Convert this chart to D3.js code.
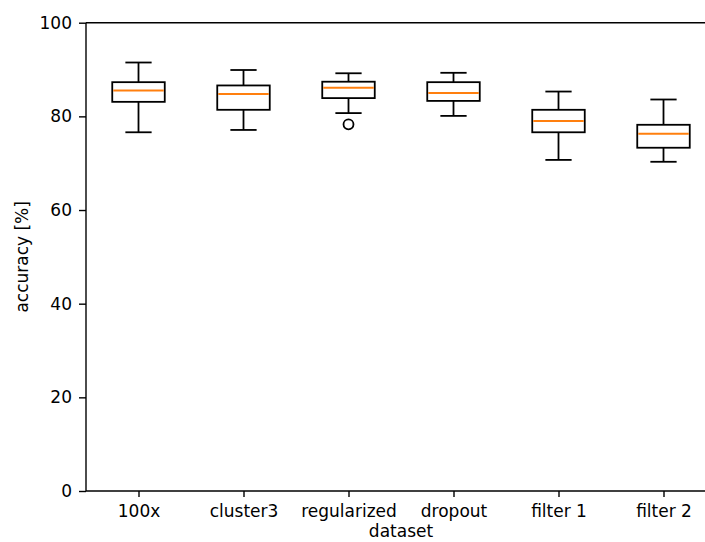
<!DOCTYPE html>
<html>
<head>
<meta charset="utf-8">
<script src="https://cdn.jsdelivr.net/npm/d3@7"></script>
<style>
  html, body { margin: 0; padding: 0; background: #fff; overflow: hidden; }
  svg { display: block; }
  text { font-family: "DejaVu Sans", sans-serif; fill: #000; }
</style>
</head>
<body>
<script>
// box statistics
const datasets = ['100x', 'cluster3', 'regularized', 'dropout', 'filter 1', 'filter 2']
const whiskerLow = [76.6, 77.1, 80.7, 80.1, 70.7, 70.3]
const q1 = [83.1, 81.4, 83.9, 83.3, 76.6, 73.3]
const median = [85.5, 84.8, 86.1, 85.0, 79.0, 76.3]
const q3 = [87.3, 86.6, 87.4, 87.3, 81.4, 78.2]
const whiskerHigh = [91.5, 89.9, 89.2, 89.3, 85.3, 83.6]
const outliers = [[], [], [78.3], [], [], []]
const yTicks = [0, 20, 40, 60, 80, 100]

const W = 705, H = 542
const margin = {top: 22.7, left: 86, bottom: 51}
const plotW = 630, plotH = H - margin.top - margin.bottom

const svg = d3.select('body').append('svg')
  .attr('width', W)
  .attr('height', H)

const g = svg.append('g')
  .attr('transform', `translate(${margin.left}, ${margin.top})`)

// categorical positions 1..6 with matplotlib-like padding
const x = d3.scaleLinear().domain([0.5, 6.5]).range([0, plotW])
const y = d3.scaleLinear().domain([0, 100]).range([plotH, 0])
const step = x(2) - x(1)
const boxW = step * 0.5

const rows = datasets.map((name, i) => ({
  name, pos: i + 1,
  lo: whiskerLow[i], q1: q1[i], med: median[i], q3: q3[i], hi: whiskerHigh[i],
  out: outliers[i]
}))

// axes
const xAxis = g.append('g')
  .attr('transform', `translate(0, ${plotH})`)
  .call(d3.axisBottom(x).tickValues(rows.map(d => d.pos))
    .tickFormat((d, i) => datasets[i]).tickSize(6).tickPadding(8))
const yAxis = g.append('g')
  .call(d3.axisLeft(y).tickValues(yTicks).tickSize(7).tickPadding(7))

g.selectAll('.domain').attr('stroke', '#000').attr('stroke-width', 1.4)
g.selectAll('.tick line').attr('stroke', '#000').attr('stroke-width', 1.4)
g.selectAll('.tick text').style('font-size', '17px').attr('fill', '#222')
xAxis.select('.domain').attr('d', `M0,0H${plotW}`)
yAxis.select('.domain').attr('d', `M0,${plotH}V0`)

// top spine
g.append('line')
  .attr('x1', 0).attr('x2', plotW)
  .attr('y1', 0).attr('y2', 0)
  .attr('stroke', '#000').attr('stroke-width', 1.4)

const boxes = g.append('g').selectAll('g').data(rows).enter().append('g')
  .attr('transform', d => `translate(${x(d.pos)}, 0)`)

const lineStyle = sel => sel.attr('stroke', '#000').attr('stroke-width', 1.8).attr('fill', 'none')

// whiskers
boxes.append('line').call(lineStyle)
  .attr('y1', d => y(d.q3)).attr('y2', d => y(d.hi))
boxes.append('line').call(lineStyle)
  .attr('y1', d => y(d.q1)).attr('y2', d => y(d.lo))
// caps
boxes.append('line').call(lineStyle)
  .attr('x1', -boxW / 4).attr('x2', boxW / 4)
  .attr('y1', d => y(d.hi)).attr('y2', d => y(d.hi))
boxes.append('line').call(lineStyle)
  .attr('x1', -boxW / 4).attr('x2', boxW / 4)
  .attr('y1', d => y(d.lo)).attr('y2', d => y(d.lo))
// box
boxes.append('rect').call(lineStyle)
  .attr('x', -boxW / 2).attr('width', boxW)
  .attr('y', d => y(d.q3)).attr('height', d => y(d.q1) - y(d.q3))
// median
boxes.append('line')
  .attr('stroke', '#ff7f0e').attr('stroke-width', 2)
  .attr('x1', -boxW / 2 + 1).attr('x2', boxW / 2 - 1)
  .attr('y1', d => y(d.med)).attr('y2', d => y(d.med))
// fliers
boxes.selectAll('circle').data(d => d.out).enter().append('circle')
  .call(lineStyle)
  .attr('cx', 0).attr('cy', d => y(d)).attr('r', 5)

// axis labels
svg.append('text')
  .attr('x', margin.left + plotW / 2).attr('y', 537)
  .attr('text-anchor', 'middle')
  .style('font-size', '17px').attr('fill', '#222')
  .text('dataset')
svg.append('text')
  .attr('transform', `translate(28, ${margin.top + plotH / 2}) rotate(-90)`)
  .attr('text-anchor', 'middle')
  .style('font-size', '17px').attr('fill', '#222')
  .text('accuracy [%]')
</script>
</body>
</html>
